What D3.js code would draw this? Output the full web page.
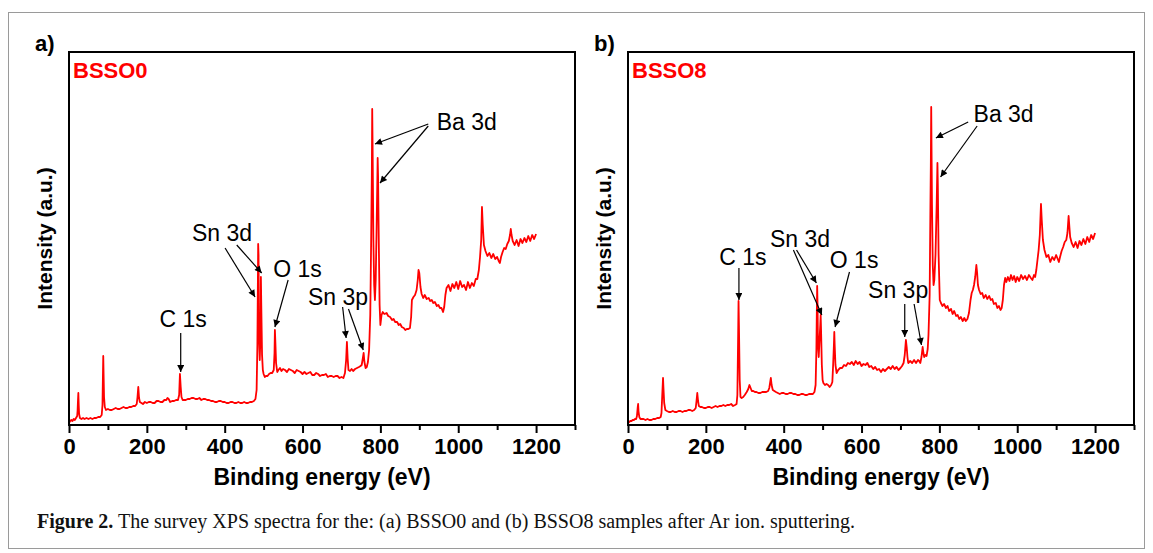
<!DOCTYPE html>
<html>
<head>
<meta charset="utf-8">
<script src="https://cdn.jsdelivr.net/npm/d3@7"></script>
<style>
  html, body { margin: 0; padding: 0; background: #fff; }
  svg { display: block; }
</style>
</head>
<body>
<svg id="fig" width="1153" height="553"></svg>
<script>
// Survey XPS spectra as [binding energy (eV), intensity (a.u.)] pairs
const spectrumA = [[0,2],[3,4],[6,5],[9,4],[12,6],[15,5],[18,7],[21,9],[22,14],[23,24],[24,32],[25,20],[26,11],[28,7],[32,6],[36,7],[40,6],[45,7],[50,6],[55,7],[60,6],[65,7],[70,7],[75,8],[80,8],[84,10],[86,20],[87,45],[88,69],[89,48],[90,28],[92,18],[95,15],[100,16],[105,15],[110,15],[115,16],[120,17],[125,16],[130,16],[135,17],[140,18],[145,17],[150,17],[155,18],[160,18],[165,19],[170,19],[174,21],[176,28],[178,38],[180,27],[182,23],[186,22],[190,21],[195,23],[200,22],[205,23],[210,23],[215,22],[220,22],[225,24],[230,24],[235,23],[240,23],[245,25],[250,25],[253,27],[256,26],[260,23],[265,24],[270,24],[275,25],[280,25],[283,30],[285,51],[287,38],[289,28],[292,25],[296,25],[300,25],[305,26],[310,26],[315,27],[320,27],[325,26],[330,26],[335,27],[340,25],[345,26],[350,26],[355,25],[360,25],[365,24],[370,24],[375,23],[380,23],[385,24],[390,24],[395,23],[400,23],[405,22],[410,22],[415,23],[420,23],[425,22],[430,22],[435,23],[440,22],[445,22],[450,23],[455,22],[460,22],[465,23],[470,23],[475,24],[479,26],[482,35],[484,80],[485,130],[486,181],[487,170],[488,90],[490,65],[492,90],[493,148],[494,120],[496,70],[498,55],[500,51],[503,48],[506,49],[510,49],[514,51],[518,52],[522,52],[526,55],[528,72],[529,95],[530,85],[532,62],[535,53],[538,55],[542,57],[546,54],[550,56],[555,55],[560,53],[565,56],[570,55],[575,54],[580,52],[585,55],[590,54],[595,53],[600,51],[605,53],[610,51],[615,52],[620,53],[625,50],[630,50],[635,52],[640,51],[645,49],[650,50],[655,50],[660,51],[665,48],[670,49],[675,49],[680,48],[685,49],[690,49],[695,47],[700,48],[705,47],[709,52],[712,65],[714,83],[716,66],[718,55],[722,54],[726,56],[730,54],[735,56],[740,57],[745,58],[749,59],[752,60],[755,67],[757,72],[759,63],[762,57],[765,58],[768,63],[771,75],[774,110],[776,175],[778,250],[779,316],[780,280],[782,185],[784,140],[786,125],[788,145],[790,190],[792,240],[793,267],[794,250],[796,180],[798,120],[800,100],[803,110],[806,113],[810,111],[816,112],[820,109],[825,108],[830,105],[834,106],[838,103],[843,103],[847,100],[851,101],[855,98],[860,97],[864,95],[868,96],[872,96],[876,97],[879,108],[881,125],[885,128],[889,130],[893,135],[896,145],[898,155],[900,152],[903,138],[906,131],[910,127],[914,130],[919,126],[924,127],[928,124],[932,125],[936,122],[940,123],[945,119],[949,120],[953,117],[957,117],[961,113],[964,118],[967,130],[970,137],[975,140],[980,134],[985,141],[990,137],[995,143],[1000,136],[1005,144],[1010,138],[1015,140],[1020,135],[1025,143],[1030,137],[1035,142],[1040,139],[1045,146],[1049,146],[1053,155],[1056,168],[1059,185],[1061,218],[1063,200],[1066,180],[1070,174],[1075,169],[1080,172],[1085,167],[1090,171],[1095,166],[1100,168],[1104,164],[1107,162],[1110,168],[1114,173],[1118,177],[1122,176],[1126,181],[1130,184],[1133,190],[1135,196],[1137,190],[1140,184],[1145,180],[1150,185],[1155,179],[1160,186],[1165,182],[1170,187],[1175,183],[1180,189],[1185,184],[1190,190],[1195,186],[1200,191]];

const spectrumB = [[0,2],[3,3],[6,4],[9,4],[12,5],[15,5],[18,6],[21,6],[23,9],[25,18],[26,21],[27,14],[29,8],[32,6],[36,6],[40,6],[45,5],[50,6],[55,5],[60,5],[65,6],[70,6],[75,7],[80,7],[84,8],[86,12],[88,30],[90,47],[91,38],[93,22],[96,15],[100,14],[105,13],[110,13],[115,14],[120,13],[125,13],[130,14],[135,14],[140,13],[145,14],[150,14],[155,15],[160,15],[165,14],[170,15],[174,17],[176,24],[178,32],[180,24],[182,19],[186,18],[190,18],[195,17],[200,17],[205,18],[210,18],[215,17],[220,18],[225,19],[230,18],[235,19],[240,19],[245,20],[250,19],[255,20],[260,20],[265,21],[270,19],[275,20],[279,21],[281,30],[283,90],[284,124],[285,100],[287,45],[289,28],[292,27],[296,28],[300,30],[305,33],[309,36],[312,40],[315,37],[318,34],[322,34],[326,33],[330,33],[335,32],[340,32],[345,33],[350,33],[355,33],[360,34],[363,37],[365,42],[367,47],[369,40],[372,35],[376,34],[380,33],[385,32],[390,31],[395,32],[400,32],[405,31],[410,31],[415,32],[420,32],[425,31],[430,31],[435,30],[440,30],[445,31],[450,31],[455,30],[460,30],[465,31],[470,31],[475,31],[479,33],[482,40],[484,75],[485,110],[486,139],[487,120],[488,80],[490,68],[492,85],[494,100],[495,110],[496,95],[498,60],[500,45],[502,42],[506,40],[510,41],[514,40],[518,38],[522,40],[525,43],[527,60],[529,80],[530,93],[531,80],[533,60],[536,52],[540,55],[545,57],[550,57],[555,60],[560,59],[565,62],[570,61],[575,63],[580,60],[585,64],[590,61],[595,63],[600,59],[605,61],[610,60],[615,62],[620,58],[625,59],[630,56],[635,58],[640,55],[645,56],[650,53],[655,56],[660,54],[665,56],[670,58],[675,56],[680,59],[685,56],[690,58],[695,55],[700,57],[704,59],[708,62],[711,70],[714,85],[716,78],[718,68],[720,62],[725,64],[730,62],[735,65],[740,62],[745,65],[748,64],[751,62],[754,68],[757,78],[759,72],[761,68],[764,70],[767,69],[770,76],[772,90],[775,130],[777,220],[778,260],[779,318],[781,220],[783,160],[785,140],[787,145],[790,170],[793,220],[795,262],[796,240],[798,170],[801,125],[804,122],[808,119],[812,121],[817,117],[821,119],[825,114],[830,116],[834,111],[838,114],[843,109],[847,110],[851,106],[855,108],[860,104],[864,107],[868,104],[872,106],[876,112],[880,125],[883,132],[886,135],[889,140],[892,148],[895,160],[897,152],[899,140],[902,135],[906,131],[910,132],[914,127],[919,130],[923,126],[928,129],[932,125],[936,126],[940,121],[945,122],[949,117],[953,119],[957,115],[960,117],[963,125],[966,140],[969,147],[972,143],[976,148],[980,144],[984,150],[988,145],[992,149],[996,143],[1000,148],[1005,144],[1010,150],[1015,146],[1020,149],[1025,145],[1030,150],[1035,147],[1039,145],[1043,150],[1046,148],[1049,155],[1052,165],[1055,175],[1058,190],[1061,221],[1063,205],[1066,185],[1070,175],[1075,168],[1080,170],[1085,163],[1090,168],[1095,165],[1100,170],[1104,166],[1107,163],[1110,168],[1114,174],[1118,178],[1122,183],[1126,185],[1129,192],[1132,209],[1134,198],[1136,188],[1140,182],[1145,178],[1150,183],[1155,177],[1160,184],[1165,180],[1170,186],[1175,181],[1180,188],[1185,183],[1190,190],[1195,186],[1200,192]];

// Axis ticks
const xMajorTicks = [0, 200, 400, 600, 800, 1000, 1200];
const xMinorTicks = [100, 300, 500, 700, 900, 1100, 1300];
const xDomain = [0, 1300];
const yDomain = [0, 373];

// Peak assignments: label anchor (eV, intensity) and arrows [fromE, fromI, toE, toI]
const peaksA = [
  { label: "C 1s",  at: [293, 98],  arrows: [[287, 92, 287, 53]] },
  { label: "Sn 3d", at: [393, 184], arrows: [[401, 177, 478, 128], [431, 180, 495, 152]] },
  { label: "O 1s",  at: [587, 148], arrows: [[563, 145, 529, 98]] },
  { label: "Sn 3p", at: [691, 120], arrows: [[703, 118, 712, 87], [718, 116, 756, 75]] },
  { label: "Ba 3d", at: [1022, 295], arrows: [[923, 301, 786, 281], [923, 299, 799, 242]] }
];
const peaksB = [
  { label: "C 1s",  at: [295, 160], arrows: [[285, 157, 285, 125]] },
  { label: "Sn 3d", at: [442, 178], arrows: [[425, 175, 498, 110], [433, 175, 484, 142]] },
  { label: "O 1s",  at: [581, 157], arrows: [[569, 153, 532, 98]] },
  { label: "Sn 3p", at: [694, 127], arrows: [[711, 121, 711, 88], [735, 121, 754, 80]] },
  { label: "Ba 3d", at: [965, 303], arrows: [[874, 303, 791, 287], [897, 299, 803, 248]] }
];

const svg = d3.select("#fig");
const SANS = "'Liberation Sans', Arial, Helvetica, sans-serif";
const SERIF = "'Liberation Serif', 'Times New Roman', serif";

// outer figure border
svg.append("rect")
  .attr("x", 8.5).attr("y", 12.5).attr("width", 1136).attr("height", 536)
  .attr("fill", "none").attr("stroke", "#9a9a9a").attr("stroke-width", 1);

// arrowhead
svg.append("defs").append("marker")
  .attr("id", "arrowhead")
  .attr("viewBox", "0 0 10 10")
  .attr("refX", 10).attr("refY", 5)
  .attr("markerWidth", 9).attr("markerHeight", 7)
  .attr("markerUnits", "userSpaceOnUse")
  .attr("orient", "auto")
  .append("path").attr("d", "M0,0 L10,5 L0,10 Z").attr("fill", "#000");

function drawPanel(opts) {
  const { left, right, top, bottom, spectrum, sample, tag, peaks } = opts;
  const x = d3.scaleLinear().domain(xDomain).range([left, right]);
  const y = d3.scaleLinear().domain(yDomain).range([bottom, top]);
  const g = svg.append("g");

  const line = d3.line().x(d => x(d[0])).y(d => y(d[1]));
  g.append("path")
    .datum(spectrum)
    .attr("d", line)
    .attr("fill", "none")
    .attr("stroke", "#ff0000")
    .attr("stroke-width", 1.8)
    .attr("stroke-linejoin", "round");

  // minor + major ticks on bottom axis
  const minor = g.append("g").attr("transform", `translate(0,${bottom})`)
    .call(d3.axisBottom(x).tickValues(xMinorTicks).tickSize(5).tickFormat(""));
  const major = g.append("g").attr("transform", `translate(0,${bottom})`)
    .call(d3.axisBottom(x).tickValues(xMajorTicks).tickSize(8).tickPadding(5).tickFormat(d3.format("d")));
  [minor, major].forEach(a => {
    a.select(".domain").remove();
    a.selectAll(".tick line").attr("stroke", "#000").attr("stroke-width", 2);
  });
  major.selectAll(".tick text")
    .attr("font-family", SANS).attr("font-weight", "bold")
    .attr("font-size", 22).attr("fill", "#000");

  // frame
  g.append("rect")
    .attr("x", left).attr("y", top)
    .attr("width", right - left).attr("height", bottom - top)
    .attr("fill", "none").attr("stroke", "#000").attr("stroke-width", 2);

  // axis titles
  g.append("text")
    .attr("x", (left + right) / 2).attr("y", bottom + 60)
    .attr("text-anchor", "middle")
    .attr("font-family", SANS).attr("font-weight", "bold").attr("font-size", 23)
    .text("Binding energy (eV)");
  g.append("text")
    .attr("transform", `translate(${left - 17},${(top + bottom) / 2}) rotate(-90)`)
    .attr("text-anchor", "middle")
    .attr("font-family", SANS).attr("font-weight", "bold").attr("font-size", 21)
    .text("Intensity (a.u.)");

  // panel tag and sample name
  g.append("text")
    .attr("x", left - 34).attr("y", top - 1)
    .attr("font-family", SANS).attr("font-weight", "bold").attr("font-size", 22)
    .text(tag);
  g.append("text")
    .attr("x", left + 4).attr("y", top + 26)
    .attr("font-family", SANS).attr("font-weight", "bold").attr("font-size", 22)
    .attr("fill", "#ff0000")
    .text(sample);

  // peak labels with arrows
  peaks.forEach(p => {
    g.append("text")
      .attr("x", x(p.at[0])).attr("y", y(p.at[1]))
      .attr("text-anchor", "middle")
      .attr("font-family", SANS).attr("font-size", 23)
      .text(p.label);
    p.arrows.forEach(a => {
      g.append("line")
        .attr("x1", x(a[0])).attr("y1", y(a[1]))
        .attr("x2", x(a[2])).attr("y2", y(a[3]))
        .attr("stroke", "#000").attr("stroke-width", 1.2)
        .attr("marker-end", "url(#arrowhead)");
    });
  });
}

drawPanel({ left: 69, right: 575, top: 52, bottom: 425,
  spectrum: spectrumA, sample: "BSSO0", tag: "a)", peaks: peaksA });
drawPanel({ left: 628, right: 1134, top: 52, bottom: 425,
  spectrum: spectrumB, sample: "BSSO8", tag: "b)", peaks: peaksB });

// caption
const cap = svg.append("text")
  .attr("x", 37).attr("y", 528)
  .attr("font-family", SERIF).attr("font-size", 20).attr("fill", "#111");
cap.append("tspan").attr("font-weight", "bold").text("Figure 2.");
cap.append("tspan").text(" The survey XPS spectra for the: (a) BSSO0 and (b) BSSO8 samples after Ar ion. sputtering.");
</script>
</body>
</html>
